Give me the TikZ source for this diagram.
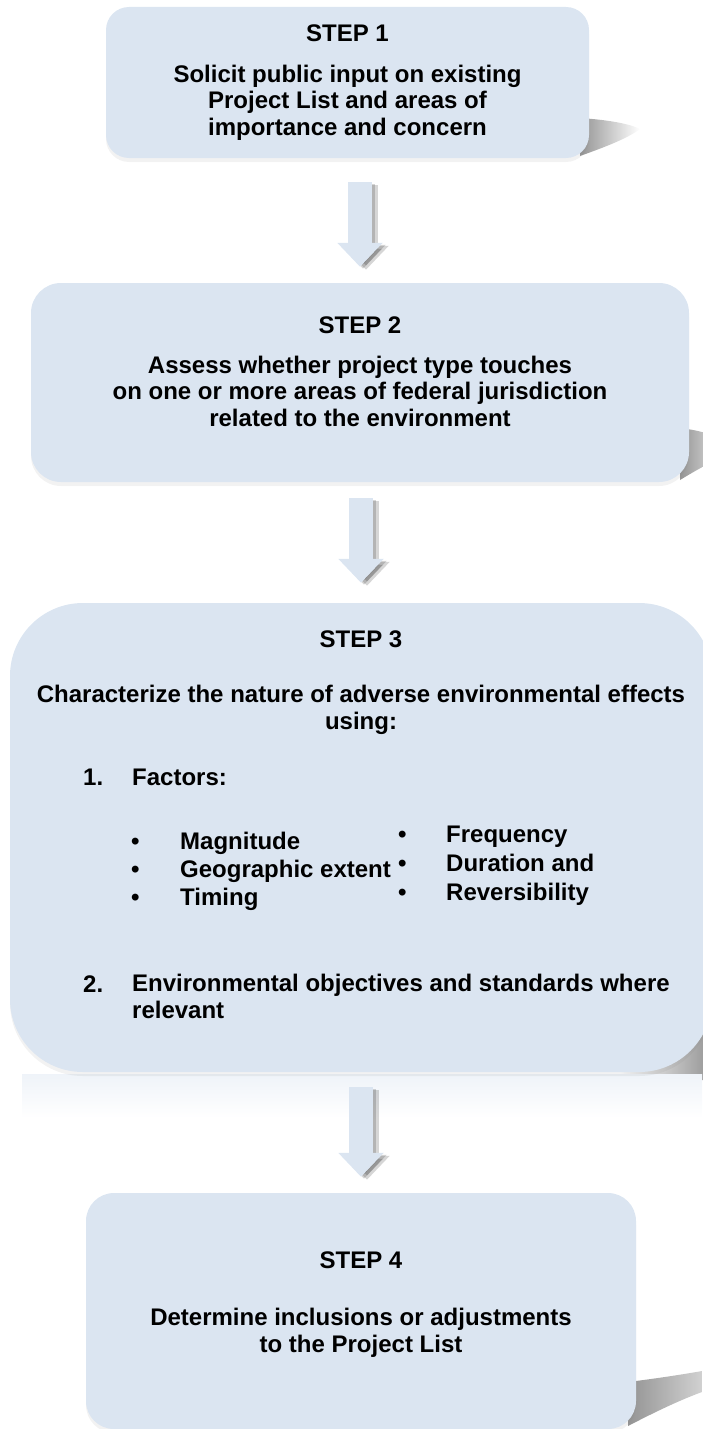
\documentclass[tikz,border=0pt]{standalone}
\usepackage{fontspec}
\setmainfont{Liberation Sans}
\usetikzlibrary{arrows.meta,calc,shadows}
\definecolor{stepblue}{RGB}{219,229,241}

\begin{document}
\begin{tikzpicture}[x=1pt,y=-1pt]
\tikzstyle{every node}+=[inner sep=0pt, font=\fontsize{24}{26.5}\selectfont\bfseries]
\tikzstyle{stepbox}=[fill=stepblue, draw=none, drop shadow={shadow xshift=0pt, shadow yshift=-4pt, opacity=0.1}]
\tikzstyle{flow}=[line width=24pt, stepblue, -{Triangle[width=44pt,length=24pt]}]
\tikzstyle{flowshade}=[line width=24pt, black, opacity=0.16, -{Triangle[width=44pt,length=24pt]}]
\useasboundingbox (0,0) rectangle (702,1429);
\shade [left color=black!42, right color=white] (580,118) .. controls (610,120) and (630,124) .. (640,129) .. controls (628,138) and (608,146) .. (580,156) -- cycle;
\shade [left color=black!42, right color=black!18] (680,428) .. controls (695,430) and (705,432) .. (712,436) -- (712,462) .. controls (700,468) and (690,474) .. (680,480) -- cycle;
\shade [left color=white, right color=black!42] (620,1062) .. controls (660,1050) and (690,1038) .. (712,1025) -- (712,1080) -- (620,1080) -- cycle;
\shade [left color=black!42, right color=black!18] (628,1382) .. controls (660,1378) and (685,1374) .. (702,1371) -- (702,1392) .. controls (680,1400) and (655,1412) .. (628,1426) -- cycle;
\shade [top color=stepblue!45, bottom color=white] (22,1074) rectangle (702,1118);
\node [stepbox, rounded corners=23pt, minimum width=483pt, minimum height=151pt] (s1) at (347.5,82.5) {};
\node [stepbox, rounded corners=30pt, minimum width=658pt, minimum height=199pt] (s2) at (360,382.5) {};
\node [stepbox, rounded corners=73pt, minimum width=702pt, minimum height=469pt] (s3) at (361,837.5) {};
\node [stepbox, rounded corners=28pt, minimum width=550pt, minimum height=236pt] (s4) at (361,1311) {};
\begin{scope}[transform canvas={xshift=6pt, yshift=-3pt}]
\draw [flowshade] ($(s1.south -| s2.north)+(0,24)$) -- ($(s2.north)+(0,-16)$);
\draw [flowshade] ($(s2.south -| s3.north)+(0,16)$) -- ($(s3.north)+(0,-20)$);
\draw [flowshade] ($(s3.south)+(0,15)$) -- ($(s4.north)+(0,-16)$);
\end{scope}
\begin{scope}[transform canvas={xshift=3pt, yshift=-2pt}]
\draw [flowshade] ($(s1.south -| s2.north)+(0,24)$) -- ($(s2.north)+(0,-16)$);
\draw [flowshade] ($(s2.south -| s3.north)+(0,16)$) -- ($(s3.north)+(0,-20)$);
\draw [flowshade] ($(s3.south)+(0,15)$) -- ($(s4.north)+(0,-16)$);
\end{scope}
\draw [flow] ($(s1.south -| s2.north)+(0,24)$) -- ($(s2.north)+(0,-16)$);
\draw [flow] ($(s2.south -| s3.north)+(0,16)$) -- ($(s3.north)+(0,-20)$);
\draw [flow] ($(s3.south)+(0,15)$) -- ($(s4.north)+(0,-16)$);
\node [anchor=base, align=center] (t1) at (347.5,135) {STEP 1\\[13.5pt]Solicit public input on existing\\Project List and areas of\\importance and concern};
\node [anchor=base, align=center] (t2) at (360,426) {STEP 2\\[13.5pt]Assess whether project type touches\\on one or more areas of federal jurisdiction\\related to the environment};
\node [anchor=base, align=center] (t3) at (361,729) {STEP 3\\[28.5pt]Characterize the nature of adverse environmental effects\\using:};
\node [anchor=base west] (n1) at (83,785) {1.};
\node [anchor=base west] (f1) at (132,785) {Factors:};
\node [anchor=base west] (b1) at (131,849) {\textbullet};
\node [anchor=base west] (magn) at (180,849) {Magnitude};
\node [anchor=base west] (b2) at (131,877) {\textbullet};
\node [anchor=base west] (geog) at (180,877) {Geographic extent};
\node [anchor=base west] (b3) at (131,905) {\textbullet};
\node [anchor=base west] (timing) at (180,905) {Timing};
\node [anchor=base west] (b4) at (398,842) {\textbullet};
\node [anchor=base west] (freq) at (446,842) {Frequency};
\node [anchor=base west] (b5) at (398,871) {\textbullet};
\node [anchor=base west] (dur) at (446,871) {Duration and};
\node [anchor=base west] (b6) at (398,900) {\textbullet};
\node [anchor=base west] (rev) at (446,900) {Reversibility};
\node [anchor=base west] (n2) at (83,992) {2.};
\node [anchor=base west, align=left] (envobj) at (132,1018) {Environmental objectives and standards where\\relevant};
\node [anchor=base, align=center] (t4) at (361,1352) {STEP 4\\[30.5pt]Determine inclusions or adjustments\\to the Project List};
\end{tikzpicture}
\end{document}
